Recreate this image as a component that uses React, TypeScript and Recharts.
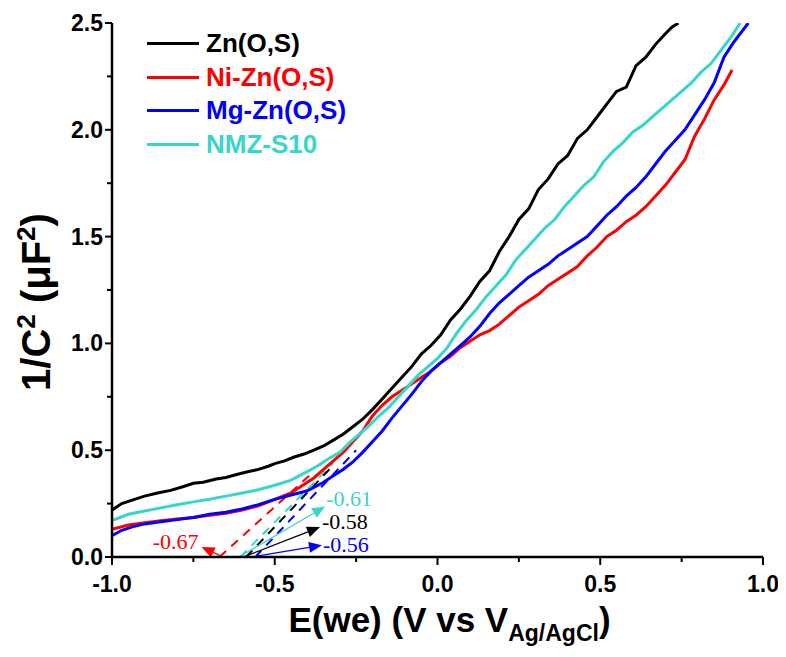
import React from 'react';
import { LineChart, Line, XAxis, YAxis, Legend, ReferenceLine } from 'recharts';

// Mott-Schottky curves
const znX = [-1.0, -0.97, -0.94, -0.9, -0.86, -0.82, -0.78, -0.75, -0.72, -0.68, -0.65, -0.62, -0.58, -0.55, -0.52, -0.5, -0.47, -0.44, -0.41, -0.38, -0.35, -0.32, -0.29, -0.26, -0.23, -0.2, -0.17, -0.14, -0.11, -0.08, -0.05, -0.02, 0.01, 0.04, 0.07, 0.1, 0.13, 0.16, 0.19, 0.22, 0.25, 0.28, 0.31, 0.34, 0.37, 0.4, 0.43, 0.46, 0.49, 0.52, 0.55, 0.58, 0.61, 0.64, 0.67, 0.7, 0.72, 0.74];
const znY = [0.22, 0.25, 0.265, 0.285, 0.3, 0.312, 0.33, 0.345, 0.35, 0.365, 0.372, 0.385, 0.4, 0.41, 0.425, 0.437, 0.45, 0.468, 0.482, 0.5, 0.52, 0.547, 0.575, 0.61, 0.645, 0.69, 0.74, 0.79, 0.84, 0.89, 0.95, 0.99, 1.04, 1.11, 1.16, 1.22, 1.29, 1.34, 1.43, 1.5, 1.58, 1.63, 1.72, 1.77, 1.84, 1.88, 1.96, 2.0, 2.06, 2.12, 2.18, 2.2, 2.3, 2.34, 2.4, 2.45, 2.48, 2.5];

const niX = [-1.0, -0.95, -0.9, -0.85, -0.8, -0.75, -0.7, -0.65, -0.6, -0.55, -0.5, -0.45, -0.42, -0.38, -0.35, -0.32, -0.29, -0.26, -0.23, -0.2, -0.17, -0.14, -0.11, -0.08, -0.05, -0.02, 0.01, 0.04, 0.07, 0.1, 0.13, 0.16, 0.19, 0.22, 0.25, 0.28, 0.31, 0.34, 0.37, 0.4, 0.43, 0.46, 0.49, 0.52, 0.55, 0.58, 0.61, 0.64, 0.67, 0.7, 0.73, 0.76, 0.79, 0.82, 0.85, 0.88, 0.905];
const niY = [0.13, 0.15, 0.16, 0.17, 0.178, 0.185, 0.195, 0.205, 0.22, 0.24, 0.27, 0.3, 0.33, 0.37, 0.41, 0.45, 0.49, 0.54, 0.59, 0.66, 0.71, 0.75, 0.78, 0.81, 0.84, 0.87, 0.91, 0.94, 0.98, 1.01, 1.04, 1.06, 1.09, 1.13, 1.17, 1.2, 1.23, 1.27, 1.3, 1.33, 1.36, 1.41, 1.45, 1.5, 1.53, 1.57, 1.6, 1.64, 1.69, 1.74, 1.8, 1.86, 1.97, 2.05, 2.14, 2.21, 2.28];

const mgX = [-1.0, -0.97, -0.94, -0.9, -0.85, -0.8, -0.75, -0.7, -0.65, -0.6, -0.55, -0.5, -0.45, -0.4, -0.35, -0.32, -0.29, -0.26, -0.23, -0.2, -0.17, -0.14, -0.11, -0.08, -0.05, -0.02, 0.01, 0.04, 0.07, 0.1, 0.13, 0.16, 0.19, 0.22, 0.25, 0.28, 0.31, 0.34, 0.37, 0.4, 0.43, 0.46, 0.49, 0.52, 0.55, 0.58, 0.61, 0.64, 0.67, 0.7, 0.73, 0.76, 0.79, 0.82, 0.85, 0.88, 0.91, 0.93, 0.955];
const mgY = [0.1, 0.125, 0.14, 0.155, 0.165, 0.175, 0.185, 0.2, 0.21, 0.225, 0.245, 0.27, 0.29, 0.31, 0.35, 0.38, 0.41, 0.445, 0.49, 0.54, 0.59, 0.65, 0.705, 0.76, 0.82, 0.87, 0.91, 0.95, 0.99, 1.03, 1.08, 1.14, 1.19, 1.23, 1.27, 1.31, 1.34, 1.37, 1.41, 1.44, 1.47, 1.5, 1.55, 1.6, 1.64, 1.69, 1.73, 1.78, 1.84, 1.9, 1.95, 2.0, 2.07, 2.14, 2.22, 2.34, 2.41, 2.45, 2.5];

const nmzX = [-1.0, -0.95, -0.9, -0.85, -0.8, -0.75, -0.7, -0.65, -0.6, -0.55, -0.5, -0.45, -0.4, -0.37, -0.34, -0.3, -0.27, -0.24, -0.21, -0.18, -0.15, -0.12, -0.09, -0.06, -0.03, 0.0, 0.03, 0.06, 0.09, 0.12, 0.15, 0.18, 0.21, 0.24, 0.27, 0.3, 0.33, 0.36, 0.39, 0.42, 0.45, 0.48, 0.51, 0.54, 0.57, 0.6, 0.63, 0.66, 0.69, 0.72, 0.75, 0.78, 0.81, 0.84, 0.87, 0.9, 0.93];
const nmzY = [0.17, 0.2, 0.215, 0.23, 0.245, 0.258, 0.27, 0.285, 0.3, 0.315, 0.336, 0.36, 0.4, 0.425, 0.455, 0.49, 0.535, 0.575, 0.615, 0.66, 0.7, 0.75, 0.8, 0.85, 0.89, 0.93, 0.98, 1.05, 1.11, 1.16, 1.22, 1.27, 1.32, 1.39, 1.44, 1.49, 1.54, 1.58, 1.64, 1.69, 1.74, 1.78, 1.85, 1.9, 1.94, 1.99, 2.02, 2.06, 2.1, 2.14, 2.18, 2.22, 2.27, 2.31, 2.37, 2.43, 2.5];

// linear fits to the depletion region, extrapolated to 1/C^2 = 0
const niFitX = [-0.67, -0.38];
const niFitY = [0, 0.4];
const nmzFitX = [-0.606, -0.32];
const nmzFitY = [0, 0.44];
const znFitX = [-0.588, -0.32];
const znFitY = [0, 0.43];
const mgFitX = [-0.56, -0.25];
const mgFitY = [0, 0.5];

// flat-band potential call-outs
const fbLabels = ['-0.67', '-0.61', '-0.58', '-0.56'];
const fbFromX = [-0.663, -0.606, -0.591, -0.56];
const fbToX = [-0.725, -0.345, -0.361, -0.355];
const fbToY = [0.047, 0.237, 0.14, 0.055];

const xTicks = [-1, -0.75, -0.5, -0.25, 0, 0.25, 0.5, 0.75, 1];
const yTicks = [0, 0.25, 0.5, 0.75, 1, 1.25, 1.5, 1.75, 2, 2.25, 2.5];

const toPoints = (xs: number[], ys: number[]) => xs.map((x, i) => ({ x, y: ys[i] }));

const CYAN = '#36d6ca';
const SANS = '"Liberation Sans", Arial, sans-serif';
const SERIF = '"Liberation Serif", "Times New Roman", serif';

const series = [
  { name: 'Zn(O,S)', color: '#000000', data: toPoints(znX, znY) },
  { name: 'Ni-Zn(O,S)', color: '#ff0000', data: toPoints(niX, niY) },
  { name: 'Mg-Zn(O,S)', color: '#0000ff', data: toPoints(mgX, mgY) },
  { name: 'NMZ-S10', color: CYAN, data: toPoints(nmzX, nmzY) },
];

const fits = [
  { color: '#ff0000', data: toPoints(niFitX, niFitY) },
  { color: CYAN, data: toPoints(nmzFitX, nmzFitY) },
  { color: '#000000', data: toPoints(znFitX, znFitY) },
  { color: '#0000ff', data: toPoints(mgFitX, mgFitY) },
];

const fbColors = ['#ff0000', '#3fd2cc', '#000000', '#0000ff'];
// text placement relative to the arrow tip: [dx, dy, anchor]
const fbTextPos: [number, number, 'start' | 'end'][] = [
  [-3, 2, 'end'],
  [1, 0, 'start'],
  [2, 2, 'start'],
  [1, 7, 'start'],
];

const isMajor = (v: number) => Math.abs(v * 2 - Math.round(v * 2)) < 1e-6;

const XTick = (props: any) => {
  const { x, y, payload } = props;
  const major = isMajor(payload.value);
  return (
    <g>
      <line x1={x} x2={x} y1={y} y2={y + (major ? 8 : 5)} stroke="#000" strokeWidth={2} />
      {major && (
        <text x={x} y={y + 35} textAnchor="middle" fontFamily={SANS} fontWeight="bold" fontSize={23} fill="#000">
          {payload.value.toFixed(1)}
        </text>
      )}
    </g>
  );
};

const YTick = (props: any) => {
  const { x, y, payload } = props;
  const major = isMajor(payload.value);
  return (
    <g>
      <line x1={x - (major ? 7 : 5)} x2={x} y1={y} y2={y} stroke="#000" strokeWidth={2} />
      {major && (
        <text x={x - 9} y={y + 8} textAnchor="end" fontFamily={SANS} fontWeight="bold" fontSize={23} fill="#000">
          {payload.value.toFixed(1)}
        </text>
      )}
    </g>
  );
};

const XTitle = (props: any) => {
  const { viewBox } = props;
  const cx = viewBox.x + viewBox.width / 2 + 12;
  const by = viewBox.y + 75;
  return (
    <text x={cx} y={by} textAnchor="middle" fontFamily={SANS} fontWeight="bold" fontSize={35} fill="#000">
      E(we) (V vs V
      <tspan fontSize={23} dy={9}>Ag/AgCl</tspan>
      <tspan fontSize={35} dy={-9}>)</tspan>
    </text>
  );
};

const YTitle = (props: any) => {
  const { viewBox } = props;
  const cx = viewBox.x + 42;
  const cy = viewBox.y + viewBox.height / 2 + 12;
  return (
    <text
      transform={`translate(${cx},${cy}) rotate(-90)`}
      textAnchor="middle"
      fontFamily={SANS}
      fontWeight="bold"
      fontSize={40}
      fill="#000"
    >
      1/C
      <tspan fontSize={26} dy={-15}>2</tspan>
      <tspan fontSize={40} dy={15}> (μF</tspan>
      <tspan fontSize={26} dy={-15}>2</tspan>
      <tspan fontSize={40} dy={15}>)</tspan>
    </text>
  );
};

const renderLegend = () => (
  <div>
    {series.map((s) => (
      <div key={s.name} style={{ display: 'flex', alignItems: 'center', height: 33.6 }}>
        <span style={{ display: 'inline-block', width: 52, height: 3, background: s.color }} />
        <span
          style={{
            marginLeft: 7,
            color: s.color,
            fontFamily: SANS,
            fontWeight: 'bold',
            fontSize: 26,
            whiteSpace: 'nowrap',
          }}
        >
          {s.name}
        </span>
      </div>
    ))}
  </div>
);

const makeArrow = (i: number) => (props: any) => {
  const { x1, y1, x2, y2 } = props;
  const color = fbColors[i];
  const ang = Math.atan2(y2 - y1, x2 - x1);
  const len = 13;
  const half = 5.5;
  const bx = x2 - len * Math.cos(ang);
  const by = y2 - len * Math.sin(ang);
  const px = -Math.sin(ang) * half;
  const py = Math.cos(ang) * half;
  const [dx, dy, anchor] = fbTextPos[i];
  return (
    <g>
      <line x1={x1} y1={y1} x2={bx} y2={by} stroke={color} strokeWidth={1.3} />
      <polygon points={`${x2},${y2} ${bx + px},${by + py} ${bx - px},${by - py}`} fill={color} />
      <text x={x2 + dx} y={y2 + dy} textAnchor={anchor} fontFamily={SERIF} fontSize={22} fill={color}>
        {fbLabels[i]}
      </text>
    </g>
  );
};

export default function App() {
  return (
    <div style={{ position: 'relative', width: 770, height: 641 }}>
      <LineChart width={770} height={641} margin={{ top: 15, right: 15, bottom: 0, left: 0 }}>
        <XAxis
          type="number"
          dataKey="x"
          domain={[-1, 1]}
          ticks={xTicks}
          interval={0}
          allowDataOverflow
          height={92}
          tickSize={0}
          tickMargin={0}
          tick={<XTick />}
          axisLine={{ stroke: '#000', strokeWidth: 2.5 }}
          label={XTitle}
        />
        <YAxis
          type="number"
          dataKey="y"
          domain={[0, 2.5]}
          ticks={yTicks}
          interval={0}
          allowDataOverflow
          width={104}
          tickSize={0}
          tickMargin={0}
          tick={<YTick />}
          axisLine={{ stroke: '#000', strokeWidth: 2.5 }}
          label={YTitle}
        />
        <Legend
          layout="vertical"
          align="center"
          verticalAlign="middle"
          content={renderLegend}
          wrapperStyle={{ left: 139, top: 19, width: 320 }}
        />
        {fits.map((f, i) => (
          <Line
            key={`fit-${i}`}
            data={f.data}
            dataKey="y"
            stroke={f.color}
            strokeWidth={2}
            strokeDasharray="9 7"
            dot={false}
            legendType="none"
            isAnimationActive={false}
          />
        ))}
        {series.map((s) => (
          <Line
            key={s.name}
            name={s.name}
            data={s.data}
            dataKey="y"
            stroke={s.color}
            strokeWidth={3}
            dot={false}
            type="linear"
            isAnimationActive={false}
          />
        ))}
        {fbLabels.map((_, i) => (
          <ReferenceLine
            key={`fb-${i}`}
            segment={[
              { x: fbFromX[i], y: 0.003 },
              { x: fbToX[i], y: fbToY[i] },
            ]}
            shape={makeArrow(i)}
            ifOverflow="visible"
          />
        ))}
      </LineChart>
    </div>
  );
}
